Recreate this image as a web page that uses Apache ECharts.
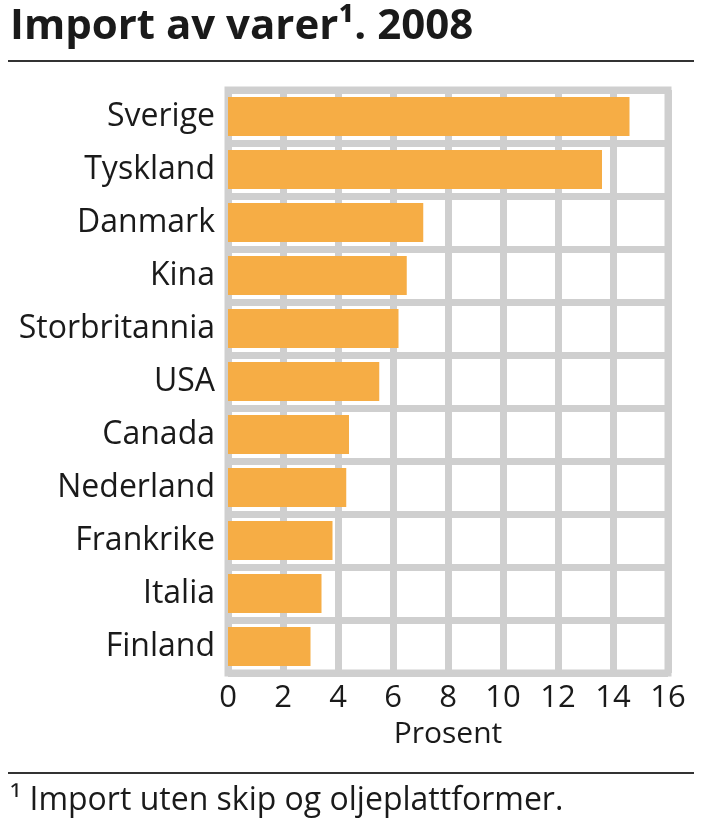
<!DOCTYPE html>
<html>
<head>
<meta charset="utf-8">
<script src="https://cdn.jsdelivr.net/npm/echarts@6/dist/echarts.min.js"></script>
<style>
html,body{margin:0;padding:0;background:#fff;}
#chart{width:706px;height:835px;}
</style>
</head>
<body>
<div id="chart"></div>
<script>
const titleText = 'Import av varer¹. 2008';
const footnoteText = '¹ Import uten skip og oljeplattformer.';
const axisName = 'Prosent';
const countries = ['Sverige','Tyskland','Danmark','Kina','Storbritannia','USA','Canada','Nederland','Frankrike','Italia','Finland'];
const shares = [14.6, 13.6, 7.1, 6.5, 6.2, 5.5, 4.4, 4.3, 3.8, 3.4, 3.0];
const xTicks = {min: 0, max: 16, interval: 2};

const FONT = 'Open Sans';
const GRIDC = '#cfcfcf';
const chart = echarts.init(document.getElementById('chart'), null, {renderer: 'canvas'});
chart.setOption({
  animation: false,
  backgroundColor: '#fff',
  title: [
    {text: titleText, left: 5, top: 1,
     textStyle: {fontFamily: FONT, fontWeight: 'bold', fontSize: 42, color: '#1a1a1a'}},
    {text: footnoteText, left: 5, top: 780,
     textStyle: {fontFamily: FONT, fontWeight: 'normal', fontSize: 32, color: '#1a1a1a'}}
  ],
  graphic: [
    {type: 'line', shape: {x1: 8, y1: 61, x2: 694, y2: 61}, style: {stroke: '#333', lineWidth: 2}},
    {type: 'line', shape: {x1: 8, y1: 773, x2: 694, y2: 773}, style: {stroke: '#333', lineWidth: 2}}
  ],
  grid: {left: 228, right: 38, top: 90, bottom: 162, show: true, borderColor: GRIDC, borderWidth: 7, backgroundColor: 'transparent'},
  xAxis: {
    type: 'value', min: xTicks.min, max: xTicks.max, interval: xTicks.interval,
    axisLine: {show: false}, axisTick: {show: false},
    splitLine: {show: true, lineStyle: {color: GRIDC, width: 7}},
    axisLabel: {fontFamily: FONT, fontSize: 31, color: '#1a1a1a', margin: 10},
    name: axisName, nameLocation: 'middle', nameGap: 46,
    nameTextStyle: {fontFamily: FONT, fontSize: 30, color: '#1a1a1a'}
  },
  yAxis: {
    type: 'category', data: countries, inverse: true,
    axisLine: {show: false}, axisTick: {show: false},
    splitLine: {show: true, lineStyle: {color: GRIDC, width: 7}},
    axisLabel: {fontFamily: FONT, fontSize: 32, color: '#1a1a1a', margin: 13}
  },
  series: [{
    type: 'bar', data: shares, barWidth: 39,
    itemStyle: {color: '#f6ad45'}
  }]
});
</script>
</body>
</html>
